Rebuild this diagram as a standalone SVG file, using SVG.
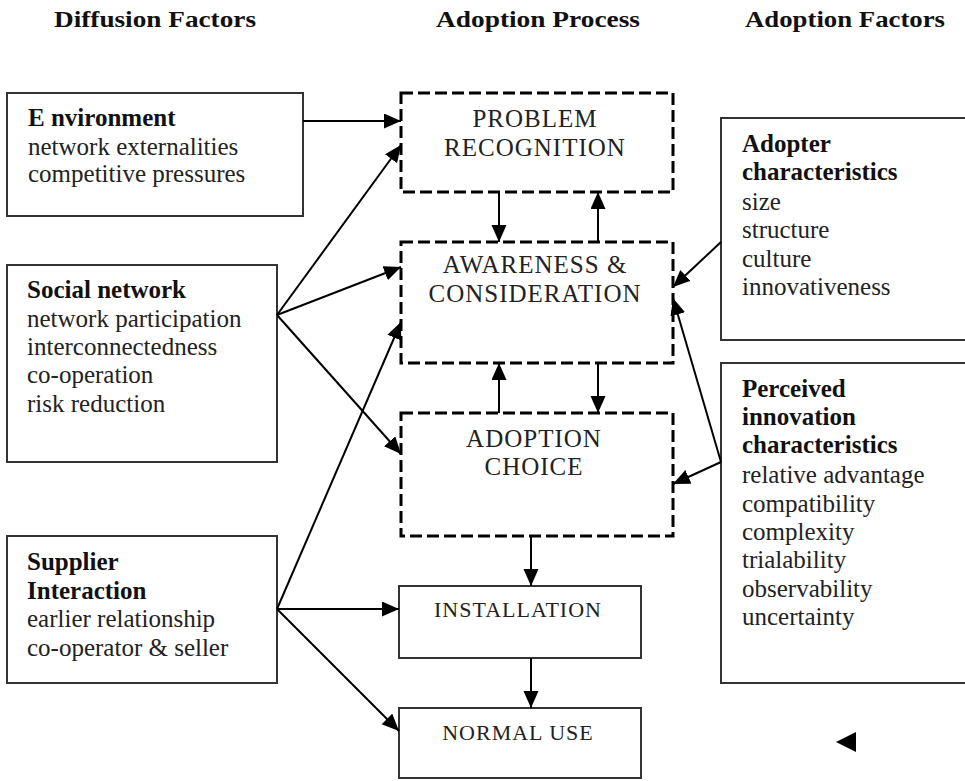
<svg xmlns="http://www.w3.org/2000/svg" width="965" height="781" viewBox="0 0 965 781">
<defs>
<marker id="ah" markerUnits="userSpaceOnUse" markerWidth="18" markerHeight="16" refX="17" refY="7.5" orient="auto">
<path d="M0,0 L17,7.5 L0,15 z" fill="#000"/>
</marker>
<style>
.hdr{font-family:"Liberation Serif",serif;font-weight:bold;font-size:23px;fill:#111}
.t{font-family:"Liberation Serif",serif;font-size:25px;fill:#222}
.b{font-family:"Liberation Serif",serif;font-size:25px;font-weight:bold;fill:#111}
.cap{font-family:"Liberation Serif",serif;font-size:22px;letter-spacing:1px;fill:#222;text-anchor:middle}
.capl{font-family:"Liberation Serif",serif;font-size:25px;letter-spacing:1px;fill:#222;text-anchor:middle}
.solid{fill:#fff;stroke:#333;stroke-width:2}
.dash{fill:#fff;stroke:#000;stroke-width:3;stroke-dasharray:12 5}
.c{stroke:#000;stroke-width:2;fill:none;marker-end:url(#ah)}
</style>
</defs>
<rect width="965" height="781" fill="#fff"/>
<g id="headers">
<text class="hdr" x="54" y="27" textLength="202" lengthAdjust="spacingAndGlyphs">Diffusion Factors</text>
<text class="hdr" x="436" y="27" textLength="204" lengthAdjust="spacingAndGlyphs">Adoption Process</text>
<text class="hdr" x="745" y="27" textLength="200" lengthAdjust="spacingAndGlyphs">Adoption Factors</text>
</g>
<g id="environment">
<rect class="solid" x="7" y="93" width="296" height="123"/>
<text class="b" x="28" y="126">E nvironment</text>
<text class="t" x="28" y="155">network externalities</text>
<text class="t" x="28" y="182">competitive pressures</text>
</g>
<g id="social-network">
<rect class="solid" x="7" y="265" width="270" height="197"/>
<text class="b" x="27" y="298">Social network</text>
<text class="t" x="27" y="327">network participation</text>
<text class="t" x="27" y="355">interconnectedness</text>
<text class="t" x="27" y="383">co-operation</text>
<text class="t" x="27" y="412">risk reduction</text>
</g>
<g id="supplier-interaction">
<rect class="solid" x="7" y="536" width="270" height="147"/>
<text class="b" x="27" y="570">Supplier</text>
<text class="b" x="27" y="599">Interaction</text>
<text class="t" x="27" y="627">earlier relationship</text>
<text class="t" x="27" y="656">co-operator &amp; seller</text>
</g>
<g id="problem-recognition">
<rect class="dash" x="401" y="93" width="272" height="99"/>
<text class="capl" x="535" y="127">PROBLEM</text>
<text class="capl" x="535" y="156">RECOGNITION</text>
</g>
<g id="awareness">
<rect class="dash" x="401" y="242" width="272" height="121"/>
<text class="capl" x="535" y="273">AWARENESS &amp;</text>
<text class="capl" x="535" y="302">CONSIDERATION</text>
</g>
<g id="adoption-choice">
<rect class="dash" x="401" y="413" width="272" height="123"/>
<text class="capl" x="534" y="447">ADOPTION</text>
<text class="capl" x="534" y="475">CHOICE</text>
</g>
<g id="installation">
<rect class="solid" x="399" y="586" width="242" height="72"/>
<text class="cap" x="518" y="617">INSTALLATION</text>
</g>
<g id="normal-use">
<rect class="solid" x="399" y="708" width="242" height="70"/>
<text class="cap" x="518" y="740">NORMAL USE</text>
</g>
<g id="adopter-characteristics">
<rect class="solid" x="721" y="118" width="260" height="222"/>
<text class="b" x="742" y="152">Adopter</text>
<text class="b" x="742" y="180">characteristics</text>
<text class="t" x="742" y="210">size</text>
<text class="t" x="742" y="238">structure</text>
<text class="t" x="742" y="267">culture</text>
<text class="t" x="742" y="295">innovativeness</text>
</g>
<g id="perceived-innovation">
<rect class="solid" x="721" y="363" width="260" height="320"/>
<text class="b" x="742" y="397">Perceived</text>
<text class="b" x="742" y="425">innovation</text>
<text class="b" x="742" y="453">characteristics</text>
<text class="t" x="742" y="483">relative advantage</text>
<text class="t" x="742" y="512">compatibility</text>
<text class="t" x="742" y="540">complexity</text>
<text class="t" x="742" y="568">trialability</text>
<text class="t" x="742" y="597">observability</text>
<text class="t" x="742" y="625">uncertainty</text>
</g>
<g id="connectors">
<line class="c" x1="303" y1="121" x2="401" y2="121"/>
<line class="c" x1="277" y1="315" x2="401" y2="145"/>
<line class="c" x1="277" y1="315" x2="401" y2="267"/>
<line class="c" x1="277" y1="315" x2="401" y2="454"/>
<line class="c" x1="277" y1="609" x2="401" y2="322"/>
<line class="c" x1="277" y1="609" x2="399" y2="609"/>
<line class="c" x1="277" y1="609" x2="399" y2="731"/>
<line class="c" x1="499" y1="192" x2="499" y2="242"/>
<line class="c" x1="598" y1="242" x2="598" y2="192"/>
<line class="c" x1="499" y1="413" x2="499" y2="363"/>
<line class="c" x1="598" y1="363" x2="598" y2="413"/>
<line class="c" x1="531" y1="536" x2="531" y2="586"/>
<line class="c" x1="531" y1="658" x2="531" y2="708"/>
<line class="c" x1="721" y1="242" x2="673" y2="287"/>
<line class="c" x1="721" y1="462" x2="673" y2="298"/>
<line class="c" x1="721" y1="462" x2="673" y2="484"/>
<polygon points="836,742 856,732 856,752" fill="#000"/>
</g>
</svg>
